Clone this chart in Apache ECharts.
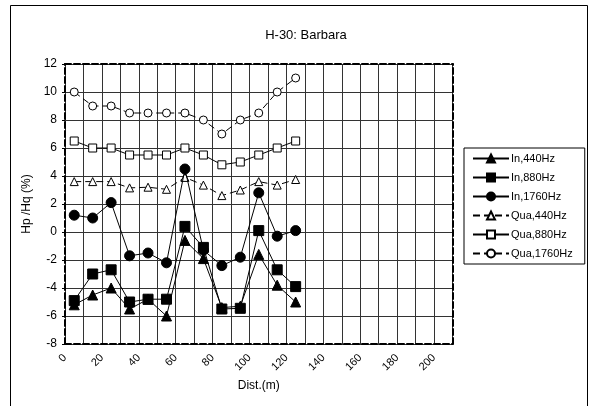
<!DOCTYPE html>
<html>
<head>
<meta charset="utf-8">
<script src="https://cdn.jsdelivr.net/npm/echarts@6/dist/echarts.min.js"></script>
<style>
  html, body { margin: 0; padding: 0; background: #fff; }
  #chart { width: 591px; height: 406px; }
</style>
</head>
<body>
<div id="chart"></div>
<script>
'use strict';

// distances (m)
var dist = [5, 15, 25, 35, 45, 55, 65, 75, 85, 95, 105, 115, 125];

var in440   = [-5.2, -4.5, -4.0, -5.5, -4.8, -6.0, -0.6, -1.9, -5.4, -5.3, -1.6, -3.8, -5.0];
var in880   = [-4.9, -3.0, -2.7, -5.0, -4.8, -4.8, 0.4, -1.1, -5.5, -5.45, 0.1, -2.7, -3.9];
var in1760  = [1.2, 1.0, 2.1, -1.7, -1.5, -2.2, 4.5, -1.3, -2.4, -1.8, 2.8, -0.3, 0.1];
var qua440  = [3.6, 3.6, 3.6, 3.15, 3.2, 3.05, 3.9, 3.35, 2.6, 3.0, 3.6, 3.35, 3.75];
var qua880  = [6.5, 6.0, 6.0, 5.5, 5.5, 5.5, 6.0, 5.5, 4.8, 5.0, 5.5, 6.0, 6.5];
var qua1760 = [10, 9, 9, 8.5, 8.5, 8.5, 8.5, 8.0, 7.0, 8.0, 8.5, 10, 11];

var FONT = 'Liberation Sans, Arial, sans-serif';

function pairs(ys) {
  return dist.map(function (d, i) { return [d, ys[i]]; });
}

function line(name, ys, symbol, size, dashed, filled, z) {
  return {
    name: name,
    type: 'line',
    data: pairs(ys),
    symbol: symbol,
    symbolSize: size,
    z: z,
    lineStyle: { color: '#000', width: 1, type: dashed ? [7, 4] : 'solid' },
    itemStyle: { color: filled ? '#000' : '#fff', borderColor: '#000', borderWidth: 1 },
    emphasis: { disabled: true }
  };
}

var myChart = echarts.init(document.getElementById('chart'), null, { renderer: 'canvas' });

var border = { type: [6, 3], color: '#000', width: 2 };

var option = {
  animation: false,
  backgroundColor: '#fff',
  textStyle: { fontFamily: FONT },
  title: {
    text: 'H-30: Barbara',
    left: 301, textAlign: 'center',
    top: 24,
    textStyle: { fontSize: 13, fontWeight: 'normal', color: '#000', fontFamily: FONT }
  },
  graphic: [{
    type: 'rect',
    shape: { x: 10.5, y: 5.5, width: 577, height: 420 },
    style: { fill: 'none', stroke: '#000', lineWidth: 1 },
    silent: true, z: -1
  }],
  legend: {
    orient: 'vertical',
    left: 464, top: 148,
    padding: [5, 12, 5, 8],
    itemWidth: 36, itemHeight: 10, itemGap: 8,
    borderColor: '#000', borderWidth: 1,
    backgroundColor: '#fff',
    textStyle: { fontSize: 11, color: '#000', fontFamily: FONT, padding: [0, 0, 0, -3] },
    data: ['In,440Hz', 'In,880Hz', 'In,1760Hz', 'Qua,440Hz', 'Qua,880Hz', 'Qua,1760Hz']
  },
  grid: { left: 65, top: 64, right: 138.5, bottom: 62 },
  xAxis: [{
    type: 'value', min: 0, max: 210, interval: 10,
    name: 'Dist.(m)', nameLocation: 'middle', nameGap: 36,
    nameTextStyle: { fontSize: 12, color: '#000', fontFamily: FONT },
    axisLine: { show: true, onZero: false, lineStyle: border },
    axisTick: { show: false },
    axisLabel: {
      rotate: 45, margin: 12, fontSize: 11, color: '#000', fontFamily: FONT,
      formatter: function (v) { return (v % 20 === 0 && v <= 200) ? String(v) : ''; }
    },
    splitLine: { show: true, lineStyle: { color: '#333', width: 1 } }
  }, {
    type: 'value', min: 0, max: 210, position: 'top',
    axisLine: { show: true, onZero: false, lineStyle: border },
    axisTick: { show: false }, axisLabel: { show: false }, splitLine: { show: false }
  }],
  yAxis: [{
    type: 'value', min: -8, max: 12, interval: 2,
    name: 'Hp /Hq (%)', nameLocation: 'middle', nameGap: 28,
    nameTextStyle: { fontSize: 12, color: '#000', fontFamily: FONT },
    axisLine: { show: true, onZero: false, lineStyle: border },
    axisTick: { show: true, length: 3, lineStyle: { color: '#000' } },
    axisLabel: { fontSize: 12, color: '#000', margin: 8, fontFamily: FONT },
    splitLine: { show: true, lineStyle: { color: '#333', width: 1 } }
  }, {
    type: 'value', min: -8, max: 12, position: 'right',
    axisLine: { show: true, onZero: false, lineStyle: border },
    axisTick: { show: false }, axisLabel: { show: false }, splitLine: { show: false }
  }],
  series: [
    line('In,440Hz', in440, 'triangle', 10, false, true, 5),
    line('In,880Hz', in880, 'rect', 10, false, true, 5),
    line('In,1760Hz', in1760, 'circle', 10, false, true, 5),
    line('Qua,440Hz', qua440, 'triangle', 8, true, false, 4),
    line('Qua,880Hz', qua880, 'rect', 8, false, false, 4),
    line('Qua,1760Hz', qua1760, 'circle', 8, true, false, 4)
  ]
};

myChart.setOption(option);

window.addEventListener('resize', function () {
  myChart.resize();
});
</script>
</body>
</html>
